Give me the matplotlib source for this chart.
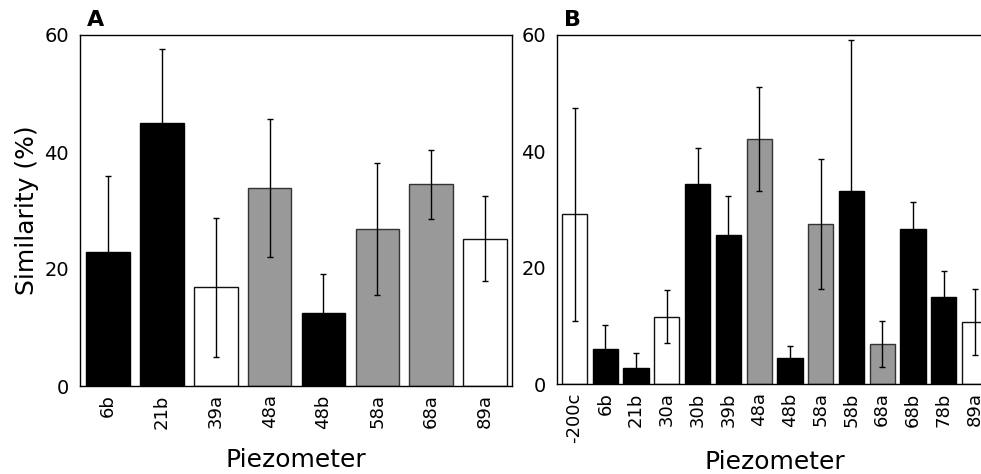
import matplotlib
matplotlib.use("Agg")
import matplotlib.pyplot as plt

# Panel A
cats_a = ["6b", "21b", "39a", "48a", "48b", "58a", "68a", "89a"]
vals_a = [22.9, 44.9, 16.9, 33.9, 12.5, 26.8, 34.5, 25.2]
errs_a = [13.0, 12.7, 11.9, 11.8, 6.6, 11.3, 5.9, 7.2]
types_a = ["b", "b", "w", "g", "b", "g", "g", "w"]

# Panel B
cats_b = ["-200c", "6b", "21b", "30a", "30b", "39b", "48a", "48b",
          "58a", "58b", "68a", "68b", "78b", "89a"]
vals_b = [29.2, 6.1, 2.8, 11.6, 34.3, 25.7, 42.1, 4.4,
          27.5, 33.2, 6.9, 26.6, 14.9, 10.6]
errs_b = [18.3, 4.1, 2.6, 4.6, 6.3, 6.6, 9.0, 2.1,
          11.2, 26.0, 3.9, 4.7, 4.5, 5.7]
types_b = ["w", "b", "b", "w", "b", "b", "g", "b",
           "g", "b", "g", "b", "b", "w"]

yticks = [0, 20, 40, 60]
fill = {"b": "#000000", "w": "#ffffff", "g": "#999999"}
edge = {"b": "#000000", "w": "#111111", "g": "#333333"}

plt.rcParams["font.family"] = ["DejaVu Sans"]

fig = plt.figure(figsize=(9.81, 4.74), dpi=100)
axA = fig.add_axes([80/981, 1-386/474, (512-80)/981, (386-35)/474])
axB = fig.add_axes([557/981, 1-384/474, (993-557)/981, (384-35)/474])

def draw(ax, cats, vals, errs, types, width, xlim):
    x = list(range(len(cats)))
    ax.bar(x, vals, width=width, color=[fill[t] for t in types],
           edgecolor=[edge[t] for t in types], linewidth=1.0, zorder=2)
    ax.errorbar(x, vals, yerr=errs, fmt="none", ecolor="#000000",
                elinewidth=1.0, capsize=2.3, capthick=1.0, zorder=3)
    ax.set_xlim(*xlim)
    ax.set_ylim(0, 60)
    ax.set_yticks(yticks)
    ax.set_yticklabels([str(v) for v in yticks], fontsize=14)
    ax.set_xticks(x)
    ax.set_xticklabels(cats, rotation=90, fontsize=13)
    ax.tick_params(axis="both", length=0)
    ax.tick_params(axis="y", pad=8)
    ax.tick_params(axis="x", pad=6)
    for s in ax.spines.values():
        s.set_linewidth(1.0)

draw(axA, cats_a, vals_a, errs_a, types_a, 0.81, (-0.52, 7.5))
draw(axB, cats_b, vals_b, errs_b, types_b, 0.82, (-0.57, 13.6))
axA.set_ylabel("Similarity (%)", fontsize=18, labelpad=4)

fig.text(296/981, 1-467/474, "Piezometer", fontsize=18, ha="center", va="baseline")
fig.text(775/981, 1-469/474, "Piezometer", fontsize=18, ha="center", va="baseline")

fig.text(87/981, 1-20/474, "A", fontsize=16, fontweight="bold", va="center", ha="left")
fig.text(564/981, 1-20/474, "B", fontsize=16, fontweight="bold", va="center", ha="left")

fig.savefig("out.png", dpi=100)
